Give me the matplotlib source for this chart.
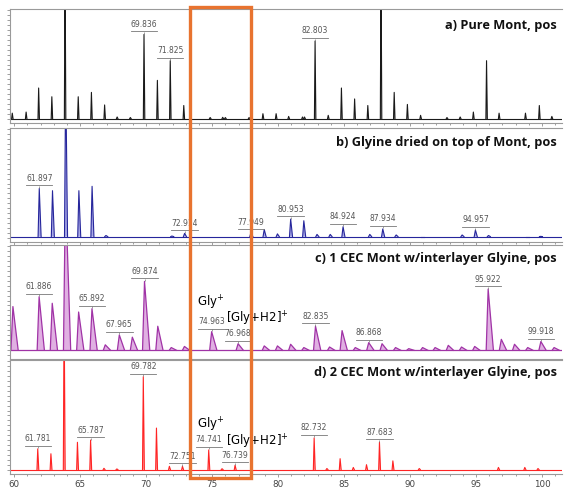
import matplotlib
matplotlib.use('Agg')
import matplotlib.pyplot as plt
from matplotlib.ticker import MultipleLocator, NullFormatter
from matplotlib.patches import Rectangle
import matplotlib.transforms as mtransforms

# ---------------- data ----------------
a_mz = [59.85, 60.9, 61.85, 62.85, 63.85, 64.85, 65.85, 66.85, 67.8, 68.8, 69.836, 70.85, 71.825,
        72.85, 74.85, 75.8, 76.0, 77.8, 78.85, 79.85, 80.8, 81.85, 82.0, 82.803, 83.8, 84.8, 85.8,
        86.8, 87.8, 88.8, 89.8, 90.8, 92.8, 93.8, 94.8, 95.8, 96.75, 98.75, 99.8, 100.75]
a_int = [0.05, 0.06, 0.28, 0.20, 1.5, 0.20, 0.24, 0.125, 0.015, 0.01, 0.77, 0.35, 0.53,
         0.12, 0.01, 0.012, 0.01, 0.01, 0.045, 0.045, 0.02, 0.015, 0.015, 0.71, 0.03, 0.28, 0.18,
         0.12, 1.5, 0.24, 0.13, 0.03, 0.01, 0.015, 0.06, 0.53, 0.05, 0.05, 0.12, 0.02]
a_labels = [69.836, 71.825, 82.803]

b_mz = [61.897, 62.9, 63.9, 64.9, 65.9, 66.95, 71.95, 72.914, 77.949, 78.95, 79.95, 80.953, 81.95,
        82.95, 83.95, 84.924, 86.95, 87.934, 88.95, 90.95, 93.95, 94.957, 95.95, 98.9, 99.9]
b_int = [0.45, 0.43, 1.5, 0.43, 0.47, 0.02, 0.015, 0.04, 0.05, 0.075, 0.035, 0.17, 0.155,
         0.03, 0.03, 0.10, 0.03, 0.08, 0.025, 0.01, 0.025, 0.07, 0.02, 0.01, 0.012]
b_labels = [61.897, 72.914, 77.949, 80.953, 84.924, 87.934, 94.957]

c_mz = [59.9, 61.886, 62.88, 63.88, 64.88, 65.892, 66.9, 67.965, 68.95, 69.874, 70.88, 71.9, 72.9,
        74.963, 76.968, 78.95, 79.95, 80.95, 81.95, 82.835, 83.9, 84.85, 85.85, 86.868, 87.88, 88.9,
        89.9, 90.95, 91.9, 92.9, 93.9, 94.9, 95.922, 96.92, 97.92, 98.92, 99.918, 100.92]
c_int = [0.44, 0.53, 0.47, 1.5, 0.39, 0.42, 0.09, 0.18, 0.16, 0.67, 0.26, 0.065, 0.075,
         0.21, 0.10, 0.08, 0.08, 0.095, 0.065, 0.26, 0.07, 0.22, 0.065, 0.11, 0.10, 0.065,
         0.055, 0.065, 0.065, 0.085, 0.07, 0.075, 0.60, 0.14, 0.095, 0.065, 0.12, 0.065]
c_labels = [61.886, 65.892, 67.965, 69.874, 74.963, 76.968, 82.835, 86.868, 95.922, 99.918]

d_mz = [61.781, 62.78, 63.78, 64.79, 65.787, 66.8, 67.78, 69.782, 70.78, 71.76, 72.751, 74.741,
        75.75, 76.739, 82.732, 83.7, 84.7, 85.7, 86.7, 87.683, 88.7, 90.7, 96.7, 98.7, 99.7]
d_int = [0.19, 0.145, 1.5, 0.25, 0.27, 0.012, 0.006, 0.85, 0.38, 0.03, 0.03, 0.18,
         0.008, 0.04, 0.29, 0.01, 0.10, 0.02, 0.045, 0.25, 0.08, 0.01, 0.02, 0.02, 0.01]
d_labels = [61.781, 65.787, 69.782, 72.751, 74.741, 76.739, 82.732, 87.683]

titles = ["a) Pure Mont, pos",
          "b) Glyine dried on top of Mont, pos",
          "c) 1 CEC Mont w/interlayer Glyine, pos",
          "d) 2 CEC Mont w/interlayer Glyine, pos"]
x_ticks = [60, 65, 70, 75, 80, 85, 90, 95, 100]
box_range = [73.33, 77.95]

# ---------------- figure ----------------
fig = plt.figure(figsize=(5.64, 4.90), dpi=100)
bottoms = [0.749, 0.506, 0.2673, 0.0327]
height = 0.232
left, width = 0.018, 0.978

styles = [
    dict(mz=a_mz, h=a_int, lab=a_labels, line='#1a1a1a', fill='#a8a8a8', wl=0.05, wr=0.06, base=0.0, lw=0.8),
    dict(mz=b_mz, h=b_int, lab=b_labels, line='#26269c', fill='#a9a9e6', wl=0.09, wr=0.14, base=0.01, lw=0.8),
    dict(mz=c_mz, h=c_int, lab=c_labels, line='#a033a6', fill='#e0b0e2', wl=0.15, wr=0.40, base=0.04, lw=0.9),
    dict(mz=d_mz, h=d_int, lab=d_labels, line='#ff2424', fill='#ff9c9c', wl=0.06, wr=0.08, base=0.0, lw=0.8),
]

axes = []
for i, st in enumerate(styles):
    ax = fig.add_axes([left, bottoms[i], width, height])
    axes.append(ax)
    ax.set_xlim(59.69, 101.5)
    ax.set_ylim(-0.04, 1.0)
    ax.axhline(st['base'], color=st['line'], lw=st['lw'], zorder=2)
    for p, v in zip(st['mz'], st['h']):
        xs = [p - st['wl'], p, p + st['wr']]
        ys = [st['base'], v, st['base']]
        ax.fill(xs, ys, color=st['fill'], lw=0, zorder=1)
        ax.plot(xs, ys, color=st['line'], lw=st['lw'], zorder=2)
    # peak labels
    up3 = mtransforms.offset_copy(ax.transData, fig=fig, x=0, y=3, units='dots')
    up1 = mtransforms.offset_copy(ax.transData, fig=fig, x=0, y=1.5, units='dots')
    for lab in st['lab']:
        hv = st['h'][st['mz'].index(lab)]
        ax.plot([lab - 1.0, lab + 1.0], [hv, hv], color='#777777', lw=0.6, transform=up3, zorder=3)
        ax.plot([lab], [hv], marker='|', ms=2, color='#777777', mew=0.5, transform=up1, zorder=3)
        ax.annotate(f"{lab:.3f}", xy=(lab, hv), xytext=(0, 4), textcoords='offset points',
                    ha='center', va='bottom', fontsize=5.5, color='#555555', zorder=3)
    ax.text(0.991, [0.86, 0.875, 0.885, 0.89][i], titles[i], transform=ax.transAxes,
            ha='right', va='center', fontsize=9.2, fontweight='bold', family='Open Sans', color='#111111')
    for s in ['left', 'bottom', 'top']:
        ax.spines[s].set_color('#9a9a9a')
        ax.spines[s].set_linewidth(0.8)
    ax.spines['right'].set_visible(False)
    ax.yaxis.set_major_locator(MultipleLocator(0.045))
    ax.yaxis.set_major_formatter(NullFormatter())
    ax.tick_params(axis='y', length=2, width=0.5, color='#777777', direction='out')
    ax.xaxis.set_major_locator(MultipleLocator(5))
    ax.xaxis.set_minor_locator(MultipleLocator(1))
    ax.tick_params(axis='x', which='major', length=2.5, width=0.5, color='#777777', labelsize=6.3,
                   labelcolor='#444444', pad=1.5)
    ax.tick_params(axis='x', which='minor', length=1.5, width=0.5, color='#777777')
    if i < 3:
        ax.xaxis.set_major_formatter(NullFormatter())
    else:
        ax.set_xticks(x_ticks)

# Gly annotations
for ax, yg, yh in [(axes[2], 0.49, 0.35), (axes[3], 0.43, 0.28)]:
    bt = mtransforms.blended_transform_factory(ax.transData, ax.transAxes)
    ax.text(73.86, yg, r'Gly$^{+}$', transform=bt, fontsize=8.5, va='center', ha='left',
            color='black', zorder=4)
    ax.text(76.05, yh, r'[Gly+H2]$^{+}$', transform=bt, fontsize=8.5, va='center', ha='left',
            color='black', zorder=4)

# orange highlight box
tr = mtransforms.blended_transform_factory(axes[3].transData, fig.transFigure)
rect = Rectangle((box_range[0], 0.0245), box_range[1] - box_range[0], 0.9857 - 0.0245,
                 transform=tr, fill=False, edgecolor='#E8732F', lw=2.4, zorder=10, clip_on=False)
fig.patches.append(rect)

fig.savefig('out.png', dpi=100)
